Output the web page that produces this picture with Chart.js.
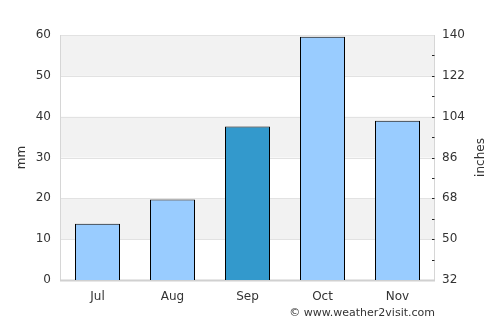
<!DOCTYPE html>
<html><head><meta charset="utf-8">
<script src="https://cdn.jsdelivr.net/npm/chart.js@4"></script>
<style>html,body{margin:0;padding:0;background:#fff}canvas{display:block}</style>
</head><body>
<canvas id="c" width="500" height="325"></canvas>
<script>
const months = ["Jul","Aug","Sep","Oct","Nov"];
const rainfallMm = [13.8, 19.7, 37.6, 59.6, 39.0];
const highlightMonth = "Sep";
const rightTicks = [32, 50, 68, 86, 104, 122, 140];
const leftTitle = "mm";
const rightTitle = "inches";
const credit = "\u00a9 www.weather2visit.com";

const FONT = "'DejaVu Sans', sans-serif";
const TXT = "#333333";

const bandPlugin = {
  id: 'bands',
  beforeDatasetsDraw(chart) {
    const {ctx, chartArea: a, scales: {y}} = chart;
    ctx.save();
    ctx.fillStyle = '#f2f2f2';
    for (let v = 10; v < 60; v += 20) {
      const top = y.getPixelForValue(v + 10), bot = y.getPixelForValue(v);
      ctx.fillRect(a.left, top, a.right - a.left, bot - top);
    }
    ctx.strokeStyle = '#e2e2e2';
    ctx.lineWidth = 1;
    for (let v = 0; v <= 60; v += 10) {
      const py = Math.round(y.getPixelForValue(v)) + 0.5;
      ctx.beginPath(); ctx.moveTo(a.left, py); ctx.lineTo(a.right, py); ctx.stroke();
    }
    ctx.strokeStyle = '#d6d6d6';
    ctx.beginPath(); ctx.moveTo(a.left + 0.5, a.top); ctx.lineTo(a.left + 0.5, a.bottom); ctx.stroke();
    ctx.beginPath(); ctx.moveTo(a.right - 0.5, a.top); ctx.lineTo(a.right - 0.5, a.bottom); ctx.stroke();
    ctx.strokeStyle = '#d0d0d0';
    ctx.lineWidth = 2;
    ctx.beginPath(); ctx.moveTo(a.left, a.bottom + 0.5); ctx.lineTo(a.right, a.bottom + 0.5); ctx.stroke();
    ctx.restore();
  },
  afterDraw(chart) {
    const {ctx, chartArea: a, scales: {y2}} = chart;
    ctx.save();
    ctx.strokeStyle = '#222';
    ctx.lineWidth = 1;
    for (let v = rightTicks[0] + 9; v < rightTicks[rightTicks.length - 1]; v += 9) {
      const py = Math.round(y2.getPixelForValue(v)) + 0.5;
      ctx.beginPath(); ctx.moveTo(a.right - 3, py); ctx.lineTo(a.right - 0.5, py); ctx.stroke();
    }
    ctx.fillStyle = TXT;
    ctx.font = "11px " + FONT;
    ctx.textAlign = 'right';
    ctx.textBaseline = 'middle';
    ctx.fillText(credit, a.right, 313);
    // right axis title, reading bottom-to-top like the reference
    ctx.font = "12px " + FONT;
    ctx.textAlign = 'center';
    ctx.translate(481, (a.top + a.bottom) / 2);
    ctx.rotate(-Math.PI / 2);
    ctx.fillText(rightTitle, 0, 0);
    ctx.restore();
  }
};

new Chart(document.getElementById('c'), {
  type: 'bar',
  data: {
    labels: months,
    datasets: [{
      data: rainfallMm,
      backgroundColor: months.map(m => m === highlightMonth ? '#3399cc' : '#99ccff'),
      borderColor: '#000',
      borderWidth: 1,
      borderSkipped: 'bottom',
      categoryPercentage: 0.6,
      barPercentage: 1.0,
      yAxisID: 'y'
    }]
  },
  options: {
    responsive: false,
    animation: false,
    devicePixelRatio: 1,
    layout: { padding: { top: 35, left: 0, right: 0, bottom: 0 } },
    plugins: { legend: { display: false }, tooltip: { enabled: false } },
    scales: {
      x: {
        grid: { display: false, drawTicks: false },
        border: { display: false },
        ticks: { color: TXT, font: { family: FONT, size: 12 }, padding: 10 },
        afterFit(s) { s.height = 45; }
      },
      y: {
        position: 'left',
        min: 0, max: 60,
        ticks: { stepSize: 10, color: TXT, font: { family: FONT, size: 12 }, padding: 9 },
        grid: { display: false, drawTicks: false },
        border: { display: false },
        title: { display: true, text: leftTitle, color: TXT, font: { family: FONT, size: 12 }, padding: { top: 15, bottom: 0 } },
        afterFit(s) { s.width = 60; }
      },
      y2: {
        position: 'right',
        min: rightTicks[0], max: rightTicks[rightTicks.length - 1],
        afterBuildTicks(s) { s.ticks = rightTicks.map(v => ({ value: v })); },
        ticks: { color: TXT, font: { family: FONT, size: 12 }, padding: 7 },
        grid: { display: false, drawTicks: false },
        border: { display: false },
        title: { display: false },
        afterFit(s) { s.width = 65; }
      }
    }
  },
  plugins: [bandPlugin]
});
</script>
</body></html>
